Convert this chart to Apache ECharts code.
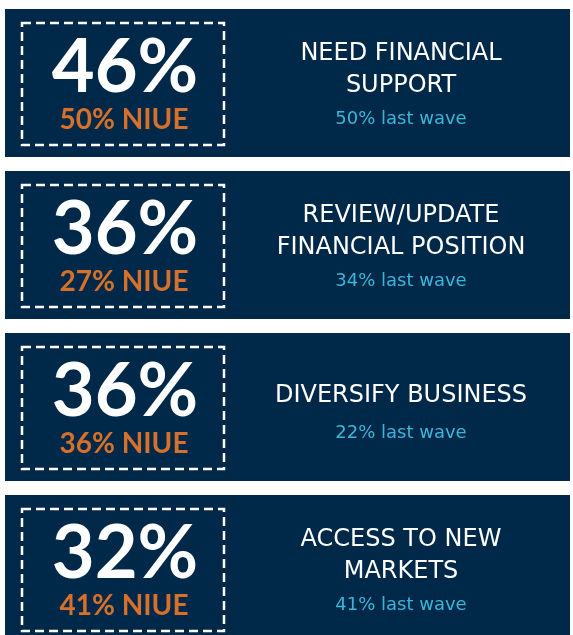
<!DOCTYPE html>
<html>
<head>
<meta charset="utf-8">
<script src="https://cdn.jsdelivr.net/npm/echarts@6/dist/echarts.min.js"></script>
<style>
  html, body { margin: 0; padding: 0; background: #fff; }
  #chart { width: 573px; height: 635px; }
</style>
</head>
<body>
<div id="chart"></div>
<script>
// titles of each row (line breaks as in the graphic)
const categories = [
  'NEED FINANCIAL\nSUPPORT',
  'REVIEW/UPDATE\nFINANCIAL POSITION',
  'DIVERSIFY BUSINESS',
  'ACCESS TO NEW\nMARKETS'
];
// current wave share (%)
const currentValues = [46, 36, 36, 32];
// Niue share (%)
const niueValues = [50, 27, 36, 41];
// last wave share (%)
const lastWaveValues = [50, 34, 22, 41];

const NAVY = '#002849';
const ORANGE = '#D5712B';
const CYAN = '#3BB6D8';

const chart = echarts.init(document.getElementById('chart'));

const renderItem = (params, api) => {
  const idx = api.value(0);
  const cs = params.coordSys;
  const cy = api.coord([0, idx])[1];
  const panelH = 148;
  const top = cy - panelH / 2;
  const left = cs.x + 5;
  const title = categories[idx].split('\n');
  const children = [
    {
      type: 'rect',
      shape: { x: left, y: top, width: cs.width - 8, height: panelH },
      style: { fill: NAVY }
    },
    {
      type: 'rect',
      shape: { x: cs.x + 22, y: top + 14, width: 202, height: 122 },
      style: { fill: 'none', stroke: '#fff', lineWidth: 2.5, lineDash: [9, 5] }
    },
    {
      type: 'text',
      style: {
        text: api.value(1) + '%',
        x: cs.x + 125, y: top + 59,
        fill: '#fff',
        font: 'bold 74px Lato',
        textAlign: 'center', textVerticalAlign: 'middle'
      }
    },
    {
      type: 'text',
      style: {
        text: api.value(2) + '% NIUE',
        x: cs.x + 124, y: top + 111,
        fill: ORANGE,
        font: 'bold 28px Lato',
        textAlign: 'center', textVerticalAlign: 'middle'
      }
    }
  ];
  const firstY = title.length > 1 ? top + 45 : top + 63;
  title.forEach((line, k) => {
    children.push({
      type: 'text',
      style: {
        text: line,
        x: cs.x + 401, y: firstY + k * 32,
        fill: '#fff',
        font: '24px "DejaVu Sans"',
        textAlign: 'center', textVerticalAlign: 'middle'
      }
    });
  });
  children.push({
    type: 'text',
    style: {
      text: api.value(3) + '% last wave',
      x: cs.x + 401, y: title.length > 1 ? top + 110 : top + 100,
      fill: CYAN,
      font: '18px "DejaVu Sans"',
      textAlign: 'center', textVerticalAlign: 'middle'
    }
  });
  return { type: 'group', children };
};

chart.setOption({
  backgroundColor: '#fff',
  animation: false,
  grid: { left: 0, right: 0, top: 2, height: 648, outerBoundsMode: 'none' },
  xAxis: { type: 'value', min: 0, max: 100, show: false },
  yAxis: { type: 'category', data: categories, inverse: true, show: false },
  series: [{
    type: 'custom',
    renderItem,
    clip: false,
    encode: { y: 0 },
    data: categories.map((c, i) => [i, currentValues[i], niueValues[i], lastWaveValues[i]])
  }]
});
</script>
</body>
</html>
